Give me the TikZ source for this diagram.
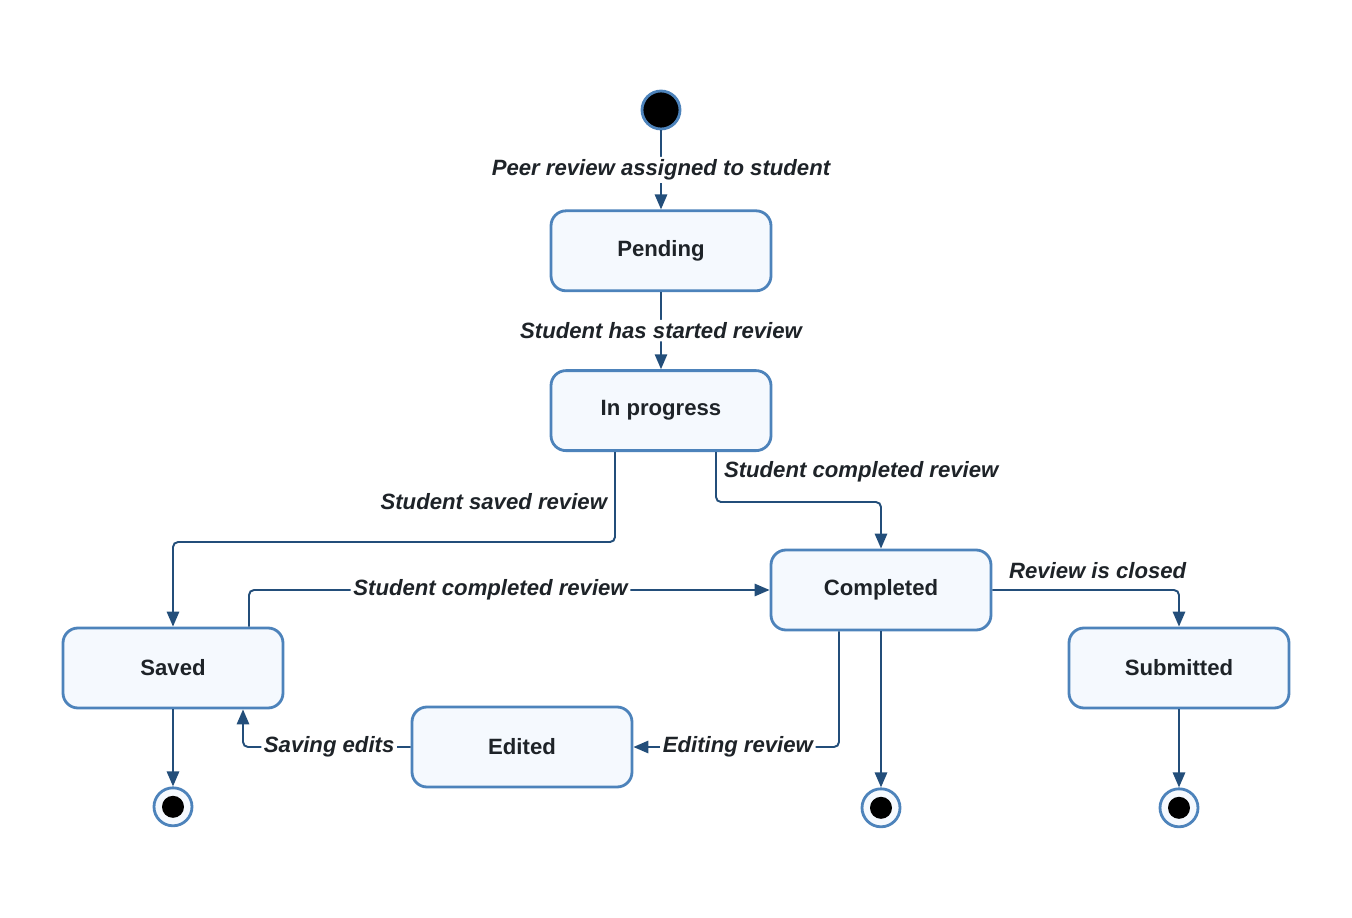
\documentclass[tikz,border=0pt]{standalone}
\usepackage{fontspec}
\setmainfont{Liberation Sans}
\usepackage{tikz}
\usetikzlibrary{positioning,arrows.meta}
\usepackage{xcolor}

\definecolor{stateborder}{HTML}{4D83BB}
\definecolor{statefill}{HTML}{F5F9FE}
\definecolor{linkcol}{HTML}{234E7A}
\definecolor{textcol}{HTML}{1E2328}

\newcommand{\diagfont}{\fontsize{12.6}{15}\selectfont}

\tikzset{
  state/.style={draw=stateborder, fill=statefill, line width=1.6pt, rounded corners=0.3cm,
    minimum width=4.4cm, minimum height=1.6cm, font=\diagfont\bfseries, text=textcol},
  initial/.style={circle, draw=stateborder, fill=black, line width=1.6pt, minimum size=0.76cm, inner sep=0pt},
  final/.style={circle, draw=stateborder, fill=statefill, line width=1.6pt, minimum size=0.76cm, inner sep=0pt,
    path picture={\fill[black] (path picture bounding box.center) circle (0.22);}},
  conn/.style={->, draw=linkcol, line width=1.1pt, rounded corners=0.1cm},
  lbl/.style={font=\diagfont\bfseries\itshape, text=textcol, inner sep=1.5pt},
  onlbl/.style={lbl, fill=white}
}

\begin{document}
\begin{tikzpicture}[>={Triangle[length=8.5pt,width=7pt]},node distance=1.54cm]
  \useasboundingbox (0,0) rectangle (27.04,-18.36);

  \node[initial] (start) at (13.22,-2.2) {};
  \node[state, below=1.58cm of start] (pending) {Pending};
  \node[state, below=of pending] (progress) {In progress};
  \node[state] (completed) at (17.62,-11.8) {Completed};
  \node[state] (saved) at (3.46,-13.36) {Saved};
  \node[state] (submitted) at (23.58,-13.36) {Submitted};
  \node[state] (edited) at (10.44,-14.94) {Edited};

  \node[final, below=1.54cm of saved] (endsaved) {};
  \node[final, below=3.12cm of completed] (endcompleted) {};
  \node[final, below=1.56cm of submitted] (endsubmitted) {};

  \draw[conn] (start) -- node[onlbl]{Peer review assigned to student} (pending);
  \draw[conn] (pending) -- node[onlbl]{Student has started review} (progress);

  \draw[conn] ([xshift=-0.92cm]progress.south) -- node[lbl, left, pos=0.55, inner sep=4pt]{Student saved review} ++(0,-1.8) -| (saved.north);
  \draw[conn] ([xshift=1.1cm]progress.south) -- node[lbl, right, pos=0.4, inner sep=4pt]{Student completed review} ++(0,-1) -| (completed.north);

  \draw[conn] ([xshift=1.52cm]saved.north) |- node[onlbl, pos=0.732]{Student completed review} (completed.west);
  \draw[conn] (completed.east) -| node[lbl, above, pos=0.282, inner sep=6pt]{Review is closed} (submitted.north);
  \draw[conn] ([xshift=-0.84cm]completed.south) |- node[onlbl, pos=0.746]{Editing review} (edited.east);
  \draw[conn] (edited.west) -| node[onlbl, pos=0.243]{Saving edits} ([xshift=1.4cm]saved.south);

  \draw[conn] (saved) -- (endsaved);
  \draw[conn] (completed) -- (endcompleted);
  \draw[conn] (submitted) -- (endsubmitted);
\end{tikzpicture}
\end{document}
